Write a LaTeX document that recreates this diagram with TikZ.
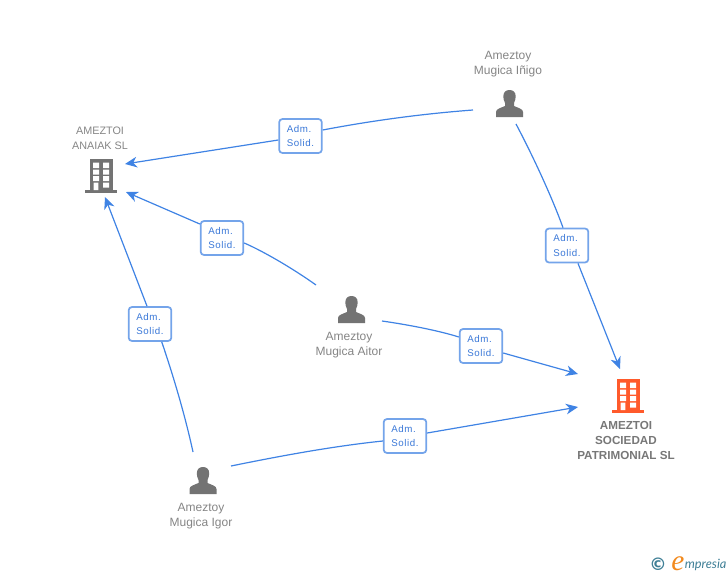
\documentclass[tikz,border=0pt]{standalone}
\usepackage{fontspec}
\setmainfont{Liberation Sans}
\newfontfamily\logofont[Ligatures=TeX]{Liberation Serif}
\newfontfamily\logosans{Lato}
\newfontfamily\glyphfont{DejaVu Sans}
\usetikzlibrary{arrows.meta}
\definecolor{linkblue}{HTML}{3F83E4}
\definecolor{boxblue}{HTML}{74A4EA}
\definecolor{labelblue}{HTML}{3A78D8}
\definecolor{iconGrey}{HTML}{737373}
\definecolor{textGrey}{HTML}{858585}
\definecolor{boldGrey}{HTML}{777777}
\definecolor{hotOrange}{HTML}{FF5A2B}
\definecolor{logoTeal}{HTML}{3F7F96}
\definecolor{logoOrange}{HTML}{F28A1E}
\tikzset{
  x=0.75pt,y=-0.75pt,
  conn/.style={draw=linkblue,line width=0.9pt},
  arr/.style={conn,-{Stealth[length=9pt,width=8pt,inset=2.8pt]}},
  role/.style={draw=boxblue,line width=1.3pt,fill=white,rounded corners=2.5pt,minimum width=32pt,minimum height=25.5pt,inner sep=0pt,align=left,text=labelblue,font=\fontsize{7.3}{11.2}\selectfont\addfontfeature{LetterSpace=6}},
  who/.style={align=center,text=textGrey,inner sep=0pt,font=\fontsize{9}{11.25}\selectfont},
  caps/.style={align=center,text=textGrey,inner sep=0pt,font=\fontsize{8.1}{11.25}\selectfont},
  firm/.style={align=center,text=boldGrey,inner sep=0pt,font=\fontsize{8.75}{11.25}\selectfont\bfseries},
  pics/person/.style={code={
    \fill[iconGrey] (-13.5,27) -- (-13.5,22) .. controls (-13.5,19) and (-9,18) .. (-4.5,16)
      -- (-4.5,13) .. controls (-5.5,11) and (-6.2,8.5) .. (-6.2,6.5)
      .. controls (-6.2,2) and (-3.5,0) .. (0,0) .. controls (3.5,0) and (6.2,2) .. (6.2,6.5)
      .. controls (6.2,8.5) and (5.5,11) .. (4.5,13) -- (4.5,16)
      .. controls (9,18) and (13.5,19) .. (13.5,22) -- (13.5,27) -- cycle;
  }},
  pics/building/.style={code={
    \fill[#1] (-11,0) rectangle (12,31);
    \fill[#1] (-16,31) rectangle (16,34);
    \fill[white] (-8,3.7) rectangle (-2,9.2) (2,3.7) rectangle (8,9.2)
      (-8,10.5) rectangle (-2,15.5) (2,10.5) rectangle (8,15.5)
      (-8,17) rectangle (-2,22) (2,17) rectangle (8,22)
      (-7.3,23.5) rectangle (-2.7,31) (2,23.5) rectangle (8,28.5);
  }},
}
\begin{document}
\begin{tikzpicture}
\useasboundingbox (0,0) rectangle (728,575);
% entities
\node[caps] (anaiak) at (100,138) {AMEZTOI\\ANAIAK SL};
\pic at (101,159) {building=iconGrey};
\node[who] (inigo) at (508,64.5) {Ameztoy\\Mugica Iñigo};
\pic at (509.5,90) {person};
\node[who] (aitor) at (349,345.5) {Ameztoy\\Mugica Aitor};
\pic at (351.5,296) {person};
\node[who] (igor) at (201,516.5) {Ameztoy\\Mugica Igor};
\pic at (203,467) {person};
\node[firm] (sociedad) at (626,440.5) {AMEZTOI\\SOCIEDAD\\PATRIMONIAL SL};
\pic at (628,379) {building=hotOrange};
% connector ends
\coordinate (inigoW) at (473,110);
\coordinate (inigoS) at (516,124);
\coordinate (aitorW) at (316,285);
\coordinate (aitorE) at (382,321);
\coordinate (igorN) at (193,452);
\coordinate (igorE) at (231,466);
\coordinate (anaiakE) at (125,164);
\coordinate (anaiakSE) at (126,192);
\coordinate (anaiakS) at (105,197);
\coordinate (socN) at (620,369);
\coordinate (socW) at (578,374);
\coordinate (socWb) at (578,407);
% role boxes
\node[role] (r1) at (300.5,136) {Adm.\\Solid.};
\node[role] (r2) at (567,245.5) {Adm.\\Solid.};
\node[role] (r3) at (222,238) {Adm.\\Solid.};
\node[role] (r4) at (481,346) {Adm.\\Solid.};
\node[role] (r5) at (150,324) {Adm.\\Solid.};
\node[role] (r6) at (405,436) {Adm.\\Solid.};
% connectors
\draw[conn] (inigoW) .. controls (420,114) and (370,121) .. ([yshift=4.5pt]r1.east);
\draw[arr] ([yshift=-3pt]r1.west) -- (anaiakE);
\draw[conn] (inigoS) .. controls (535,160) and (553,200) .. ([xshift=-3pt]r2.north);
\draw[arr] ([xshift=8.25pt]r2.south) -- (socN);
\draw[conn] (aitorW) .. controls (295,270) and (265,252) .. ([yshift=-3.75pt]r3.east);
\draw[arr] ([yshift=10.5pt]r3.west) -- (anaiakSE);
\draw[conn] (aitorE) .. controls (410,325) and (440,331) .. ([yshift=6.75pt]r4.west);
\draw[arr] ([yshift=-5.25pt]r4.east) -- (socW);
\draw[conn] (igorN) .. controls (185,415) and (173,375) .. ([xshift=8.8pt]r5.south);
\draw[arr] ([xshift=-2.25pt]r5.north) -- (anaiakS);
\draw[conn] (igorE) .. controls (285,455) and (335,446) .. ([yshift=-3.75pt]r6.west);
\draw[arr] ([yshift=2.25pt]r6.east) -- (socWb);
% logo
\node[inner sep=0pt,text=logoTeal,font=\glyphfont\bfseries\fontsize{13}{13}\selectfont] (copy) at (658,564.5) {©};
\node[inner sep=0pt,anchor=base,text=logoOrange,font=\logofont\itshape\fontsize{22}{22}\selectfont] (elogo) at (678,570) {e};
\node[inner sep=0pt,anchor=base west,text=logoTeal,font=\logosans\itshape\fontsize{9.6}{10}\selectfont] (mpresia) at (684.5,568) {mpresia};
\end{tikzpicture}
\end{document}
